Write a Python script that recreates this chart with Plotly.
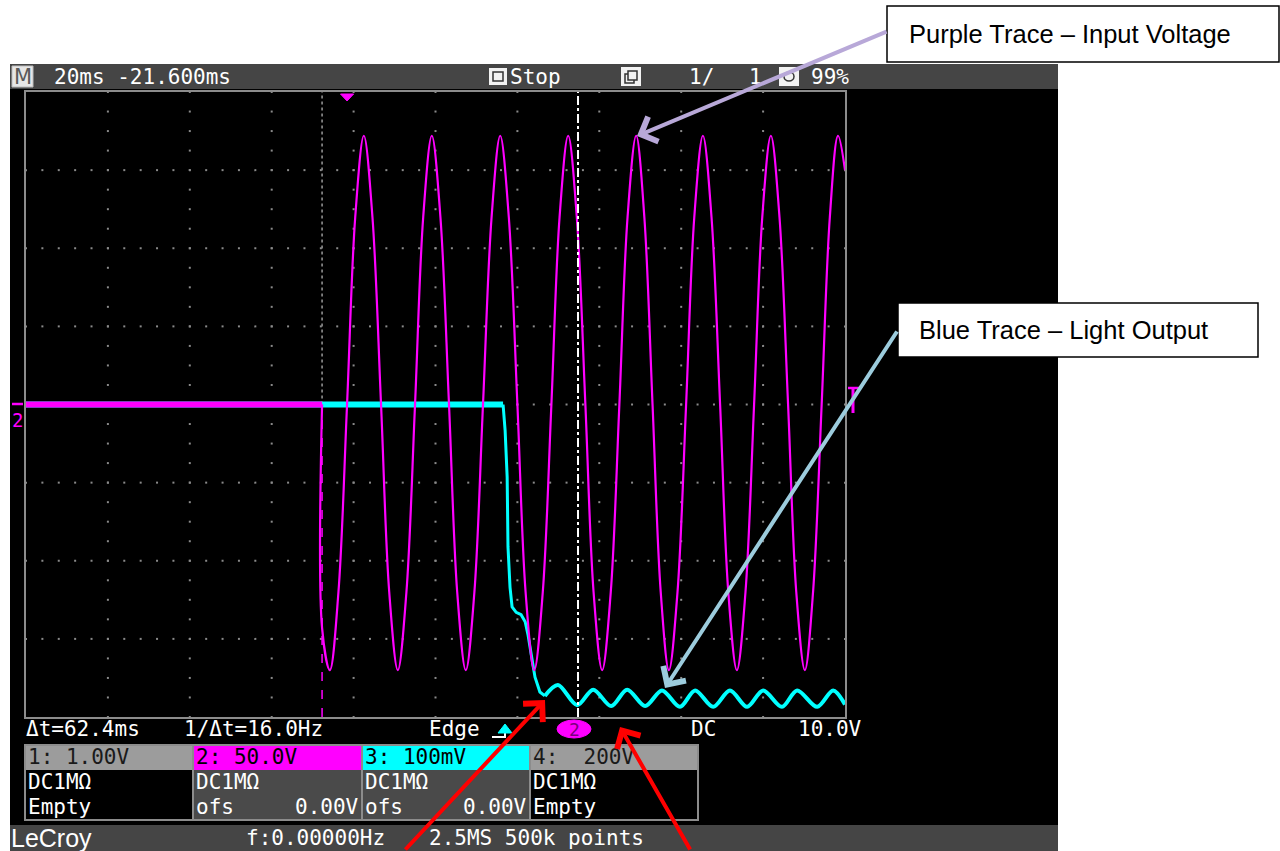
import plotly.graph_objects as go

W, H = 1280, 851

# ---------------- data (screen time in ms: 20 ms/div x 10 div) ----------------
# Channel 2 (purple, input voltage, V, 50 V/div)
purple_flat_t = [0.0, 72.3]
purple_flat_v = [0.0, 0.0]
purple_t = [72.3, 72.3, 74.2,
            76.3, 78.4, 80.4, 82.5,
            84.6, 86.7, 88.7, 90.8,
            92.9, 95.0, 97.0, 99.1,
            101.2, 103.3, 105.3, 107.4,
            109.5, 111.6, 113.7, 115.8,
            117.9, 120.0, 122.0, 124.1,
            126.2, 128.3, 130.3, 132.4,
            134.5, 136.6, 138.6, 140.7,
            142.8, 144.9, 146.9, 149.0,
            151.0, 153.0, 155.0, 157.0,
            159.1, 161.2, 163.2, 165.3,
            167.4, 169.5, 171.5, 173.6,
            175.7, 177.8, 179.8, 181.9,
            184.0, 186.1, 188.1, 190.2,
            192.2, 194.3, 196.3, 198.3,
            200.0]
purple_v = [0, -143, -170,
            -120, 0, 120, 172,
            120, 0, -120, -170,
            -120, 0, 120, 172,
            120, 0, -120, -170,
            -120, 0, 120, 172,
            120, 0, -120, -170,
            -120, 0, 120, 172,
            120, 0, -120, -170,
            -120, 0, 120, 172,
            120, 0, -120, -170,
            -120, 0, 120, 172,
            120, 0, -120, -170,
            -120, 0, 120, 172,
            120, 0, -120, -170,
            -120, 0, 120, 172,
            150]

# Channel 3 (blue, light output, mV, 100 mV/div)
blue_flat_t = [0.0, 116.5]
blue_flat_v = [0.0, 0.0]
blue_step_t = [116.5, 117.0, 117.5, 117.7, 118.2, 118.7, 119.7, 120.9, 121.9,
               122.6, 123.6, 124.3, 125.5, 126.7]
blue_step_v = [0, -33, -93, -182, -234, -259, -266, -269, -278,
               -295, -327, -349, -368, -373]
blue_ripple_t = [126.7, 129.9, 134.6, 138.5, 142.9, 146.8, 151.2, 155.3, 159.7,
                 163.4, 167.8, 171.9, 176.1, 180.0, 184.6, 188.3, 193.2, 197.1, 200.0]
blue_ripple_v = [-373, -359, -385, -365, -386, -365, -386, -366, -387,
                 -366, -387, -366, -387, -366, -387, -366, -387, -366, -384]

cursor_times_ms = [72.3, 134.8]
trigger_time_ms = 78.4

# scope readout text
top_texts = ["20ms -21.600ms", "Stop", "1/", "1", "99%"]
info_texts = ["Δt=62.4ms", "1/Δt=16.0Hz", "Edge", "DC", "10.0V"]
ch_headers = ["1: 1.00V", "2: 50.0V", "3: 100mV", "4:\u00a0\u00a0200V"]
ch_row2 = ["DC1MΩ", "DC1MΩ", "DC1MΩ", "DC1MΩ"]
ch_row3_left = ["Empty", "ofs", "ofs", "Empty"]
ch_row3_right = ["", "0.00V", "0.00V", ""]
bottom_texts = ["f:0.00000Hz", "2.5MS 500k points"]
callouts = ["Purple Trace – Input Voltage", "Blue Trace – Light Output"]

# ---------------- helpers ----------------
def X(px):
    return px / W


def Y(py):
    return 1 - py / H


MAG = "#FF00FF"
CYAN = "#00FFFF"
GRAYBAR = "#454545"
MONO = "DejaVu Sans Mono"

fig = go.Figure()

# graticule dots (base axes: x / y in mV, ch3 scale)
gx, gy = [], []
for k in range(1, 10):
    t = 20.0 * k
    for j in range(0, 33):
        gx.append(t)
        gy.append(-400 + 25.0 * j)
for k in range(1, 8):
    v = -400 + 100.0 * k
    for j in range(0, 51):
        gx.append(4.0 * j)
        gy.append(v)
fig.add_trace(go.Scatter(x=gx, y=gy, mode="markers", hoverinfo="skip",
                         marker=dict(symbol="square", size=2, color="#8a8a8a",
                                     line=dict(width=0))))

# blue traces (ch3, base y axis in mV)
fig.add_trace(go.Scatter(x=blue_flat_t, y=blue_flat_v, mode="lines",
                         line=dict(color=CYAN, width=6)))
fig.add_trace(go.Scatter(x=blue_step_t, y=blue_step_v, mode="lines",
                         line=dict(color=CYAN, width=3)))
fig.add_trace(go.Scatter(x=blue_ripple_t, y=blue_ripple_v, mode="lines",
                         line=dict(color=CYAN, width=4, shape="spline", smoothing=0.9)))

# purple traces (ch2, overlaying y2 axis in V)
fig.add_trace(go.Scatter(x=purple_flat_t, y=purple_flat_v, yaxis="y2", mode="lines",
                         line=dict(color=MAG, width=6)))
fig.add_trace(go.Scatter(x=purple_t, y=purple_v, yaxis="y2", mode="lines",
                         line=dict(color=MAG, width=2.2, shape="spline", smoothing=1.0)))

shapes = []


def rect(x0, y0, x1, y1, fill, line=None, lw=0, layer="below"):
    shapes.append(dict(type="rect", xref="paper", yref="paper",
                       x0=X(x0), x1=X(x1), y0=Y(y1), y1=Y(y0),
                       fillcolor=fill, layer=layer,
                       line=dict(color=line if line else fill, width=lw)))


def pline(x0, y0, x1, y1, color, width, dash="solid", layer="above"):
    shapes.append(dict(type="line", xref="paper", yref="paper",
                       x0=X(x0), x1=X(x1), y0=Y(y0), y1=Y(y1), layer=layer,
                       line=dict(color=color, width=width, dash=dash)))


# scope body
rect(10, 88, 1058, 825, "black")
rect(10, 64, 1058, 89, GRAYBAR)
rect(10, 825, 1058, 851, GRAYBAR)

# top bar icons
rect(12, 66, 33, 87, "#e6e6e6", "#bdbdbd", 1)
rect(489, 68, 507, 85, "#f2f2f2")
rect(493, 72, 503, 81, "#f2f2f2", "#333333", 1.5)
rect(621, 67, 641, 86, "#f2f2f2")
rect(625, 74, 634, 83, "#f2f2f2", "#333333", 1.5)
rect(628, 71, 637, 80, "#f2f2f2", "#333333", 1.5)
rect(779, 67, 799, 86, "#f2f2f2")
shapes.append(dict(type="circle", xref="paper", yref="paper", x0=X(784), x1=X(794),
                   y0=Y(81), y1=Y(72), fillcolor="#f2f2f2", layer="below",
                   line=dict(color="#333333", width=1.5)))

# channel boxes
cols = [25, 193, 362, 530, 698]
head_fill = ["#9c9c9c", MAG, CYAN, "#9c9c9c"]
body_fill = ["black", "#4a4a4a", "#4a4a4a", "black"]
for i in range(4):
    rect(cols[i], 745, cols[i + 1], 770, head_fill[i])
    rect(cols[i], 770, cols[i + 1], 820, body_fill[i])
    rect(cols[i], 745, cols[i + 1], 820, "rgba(0,0,0,0)", "#8c8c8c", 2)

# magenta pill (trigger source) and trigger icon
shapes.append(dict(type="circle", xref="paper", yref="paper", x0=X(557), x1=X(591),
                   y0=Y(738), y1=Y(720), fillcolor=MAG, line=dict(color=MAG, width=1),
                   layer="below"))
shapes.append(dict(type="path", xref="paper", yref="paper", layer="below",
                   path=f"M {X(492)},{Y(737)} L {X(505)},{Y(737)} L {X(505)},{Y(725)}",
                   line=dict(color="white", width=2)))
shapes.append(dict(type="path", xref="paper", yref="paper", layer="below",
                   path=f"M {X(498)},{Y(733)} L {X(512)},{Y(733)} L {X(505)},{Y(724)} Z",
                   fillcolor=CYAN, line=dict(color=CYAN, width=1)))

# cursors
shapes.append(dict(type="line", xref="x", yref="y", x0=cursor_times_ms[0], x1=cursor_times_ms[0],
                   y0=0, y1=400, layer="below", line=dict(color="#9a9a9a", width=1.5, dash="dot")))
shapes.append(dict(type="line", xref="x", yref="y", x0=cursor_times_ms[0], x1=cursor_times_ms[0],
                   y0=-400, y1=0, layer="above", line=dict(color=MAG, width=1.5, dash="dash")))
shapes.append(dict(type="line", xref="x", yref="y", x0=cursor_times_ms[1], x1=cursor_times_ms[1],
                   y0=-400, y1=400, layer="above", line=dict(color="white", width=2, dash="dashdot")))

# trigger position marker (top)
shapes.append(dict(type="path", xref="x", yref="paper", layer="above",
                   path=f"M {trigger_time_ms - 1.6},{Y(94)} L {trigger_time_ms + 1.6},{Y(94)} "
                        f"L {trigger_time_ms},{Y(101)} Z",
                   fillcolor=MAG, line=dict(color=MAG, width=1)))
# trigger level marker (right)
pline(848, 388, 859, 388, MAG, 2.5)
pline(853, 388, 853, 413, MAG, 3)
# channel offset marker (left)
pline(12, 404, 23, 404, MAG, 2.5)

# callout boxes
rect(887, 6, 1279, 62, "white", "black", 1.5, layer="above")
rect(898, 303, 1258, 357, "white", "black", 1.5, layer="above")

fig.update_layout(shapes=shapes)

ann = []


def txt(x, y, s, color="white", size=21, family=MONO, anchor="left"):
    ann.append(dict(xref="paper", yref="paper", x=X(x), y=Y(y), text=s, showarrow=False,
                    xanchor=anchor, yanchor="middle",
                    font=dict(family=family, size=size, color=color)))


# top bar
txt(22.5, 77, "M", color="#5a5a5a", size=21, family="DejaVu Sans", anchor="center")
txt(52, 77, top_texts[0])
txt(508, 77, top_texts[1])
txt(687, 77, top_texts[2])
txt(747, 77, top_texts[3])
txt(809, 77, top_texts[4])

# left channel marker
txt(17.5, 420, "2", color=MAG, size=19, anchor="center")

# info row
txt(24, 729, info_texts[0])
txt(182, 729, info_texts[1])
txt(427, 729, info_texts[2])
txt(574, 729, "2", color="#7a007a", size=18, anchor="center")
txt(689, 729, info_texts[3])
txt(796, 729, info_texts[4])

# channel boxes text
head_col = ["#1a1a1a", "black", "black", "#1a1a1a"]
for i in range(4):
    txt(cols[i] + 1, 757, ch_headers[i], color=head_col[i])
    txt(cols[i] + 1, 782, ch_row2[i])
    txt(cols[i] + 1, 807, ch_row3_left[i])
    if ch_row3_right[i]:
        txt(cols[i + 1] - 1, 807, ch_row3_right[i], anchor="right")

# bottom bar
txt(9, 838, "LeCroy", size=25, family="Liberation Sans")
txt(244, 838, bottom_texts[0])
txt(427, 838, bottom_texts[1])

# callout texts
txt(907, 34, callouts[0], color="black", size=25.5, family="Liberation Sans")
txt(917, 330, callouts[1], color="black", size=25.5, family="Liberation Sans")


def arrow(hx, hy, tx, ty, color, width=4, size=1.3):
    ann.append(dict(xref="paper", yref="paper", x=X(hx), y=Y(hy), ax=tx - hx, ay=ty - hy,
                    axref="pixel", ayref="pixel", text="", showarrow=True,
                    arrowhead=4, arrowsize=size, arrowwidth=width, arrowcolor=color,
                    standoff=0, startstandoff=0))


arrow(637, 136, 888, 31, "#B8A8D8")
arrow(665, 688, 898, 330, "#9CCCDD")
arrow(545, 700, 404, 855, "#FF0000")
arrow(620, 727, 691, 855, "#FF0000")

fig.update_layout(annotations=ann)

fig.update_layout(
    width=W, height=H, margin=dict(l=0, r=0, t=0, b=0),
    paper_bgcolor="white", plot_bgcolor="rgba(0,0,0,0)",
    showlegend=False,
    xaxis=dict(domain=[X(26), X(845)], range=[0, 200], showgrid=False, zeroline=False,
               showticklabels=False, ticks="", showline=True, mirror=True,
               linecolor="#8c8c8c", linewidth=2, fixedrange=True),
    yaxis=dict(domain=[Y(717), Y(92)], range=[-400, 400], showgrid=False, zeroline=False,
               showticklabels=False, ticks="", showline=True, mirror=True,
               linecolor="#8c8c8c", linewidth=2, fixedrange=True),
    yaxis2=dict(overlaying="y", range=[-200, 200], showgrid=False, zeroline=False,
                showticklabels=False, ticks="", showline=False, fixedrange=True),
)

fig.write_html(
    "out.html",
    config={"displayModeBar": False},
    post_script="document.body.style.margin='0';document.body.style.overflow='hidden';",
)
